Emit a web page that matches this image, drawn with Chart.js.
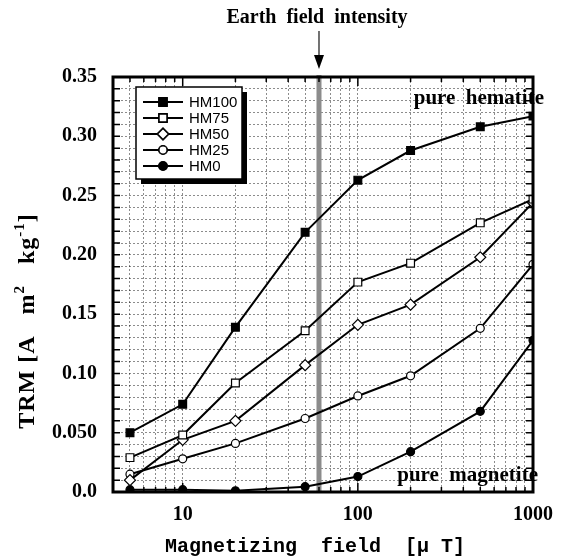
<!DOCTYPE html>
<html>
<head>
<meta charset="utf-8">
<script src="https://cdn.jsdelivr.net/npm/chart.js@4"></script>
<style>
  body { margin: 0; background: #fff; }
  canvas { display: block; }
</style>
</head>
<body>
<canvas id="trmChart" width="567" height="556"></canvas>
<script>
// magnetizing field [uT]
const fields = [5, 10, 20, 50, 100, 200, 500, 1000];

// TRM per sample [A m2 kg-1]
const hm100 = [0.050, 0.074, 0.139, 0.219, 0.263, 0.288, 0.308, 0.317];
const hm75 = [0.029, 0.048, 0.092, 0.136, 0.177, 0.193, 0.227, 0.247];
const hm50 = [0.010, 0.044, 0.060, 0.107, 0.141, 0.158, 0.198, 0.244];
const hm25 = [0.015, 0.028, 0.041, 0.062, 0.081, 0.098, 0.138, 0.192];
const hm0 = [0.002, 0.002, 0.001, 0.0045, 0.013, 0.034, 0.068, 0.128];

const seriesNames = ['HM100', 'HM75', 'HM50', 'HM25', 'HM0'];
const earthField = 60;

const xGridValues = [5, 6, 7, 8, 9, 10, 20, 30, 40, 50, 60, 70, 80, 90,
    100, 200, 300, 400, 500, 600, 700, 800, 900, 1000];
const xTickLabels = { 10: '10', 100: '100', 1000: '1000' };
const yTickLabels = ['0.0', '0.050', '0.10', '0.15', '0.20', '0.25', '0.30', '0.35'];

const serif = '"Liberation Serif", "Times New Roman", serif';

function toPoints(values) {
    return values.map((v, i) => ({ x: fields[i], y: v }));
}

function makeDataset(label, values, style, filled, radius) {
    return {
        label: label,
        data: toPoints(values),
        borderColor: '#000',
        borderWidth: 2,
        pointStyle: style,
        pointRadius: radius,
        pointBackgroundColor: filled ? '#000' : '#fff',
        pointBorderColor: '#000',
        pointBorderWidth: 1.2,
        tension: 0
    };
}

const datasets = [
    makeDataset(seriesNames[0], hm100, 'rect', true, 5.5),
    makeDataset(seriesNames[1], hm75, 'rect', false, 5.5),
    makeDataset(seriesNames[2], hm50, 'rectRot', false, 5.5),
    makeDataset(seriesNames[3], hm25, 'circle', false, 4),
    makeDataset(seriesNames[4], hm0, 'circle', true, 4)
];

// gray band at the earth field + arrow and label above
const earthBand = {
    id: 'earthBand',
    beforeDatasetsDraw(chart) {
        const { ctx, chartArea, scales } = chart;
        const x = scales.x.getPixelForValue(earthField);
        ctx.save();
        ctx.fillStyle = '#8c8c8c';
        ctx.fillRect(x - 2.5, chartArea.top - 2, 5, chartArea.bottom - chartArea.top + 2);
        ctx.restore();
    },
    afterDraw(chart) {
        const { ctx, chartArea, scales } = chart;
        const x = scales.x.getPixelForValue(earthField);
        ctx.save();
        ctx.strokeStyle = '#444';
        ctx.lineWidth = 1.5;
        ctx.beginPath();
        ctx.moveTo(x, 31);
        ctx.lineTo(x, 60);
        ctx.stroke();
        ctx.fillStyle = '#000';
        ctx.beginPath();
        ctx.moveTo(x - 5, 55);
        ctx.lineTo(x + 5, 55);
        ctx.lineTo(x, chartArea.top - 8);
        ctx.closePath();
        ctx.fill();
        ctx.font = 'bold 20px ' + serif;
        ctx.textAlign = 'center';
        ctx.textBaseline = 'middle';
        ctx.fillText('Earth  field  intensity', x - 2, 18);
        ctx.restore();
    }
};

// thick frame with inward ticks on all four sides
const frame = {
    id: 'frame',
    afterDatasetsDraw(chart) {
        const { ctx, chartArea: a, scales } = chart;
        ctx.save();
        ctx.strokeStyle = '#000';
        ctx.lineWidth = 1.5;
        ctx.beginPath();
        scales.y.ticks.forEach(t => {
            const y = scales.y.getPixelForValue(t.value);
            ctx.moveTo(a.left, y); ctx.lineTo(a.left + 7, y);
            ctx.moveTo(a.right, y); ctx.lineTo(a.right - 7, y);
        });
        scales.x.ticks.forEach(t => {
            const x = scales.x.getPixelForValue(t.value);
            const len = xTickLabels[t.value] ? 9 : 5;
            ctx.moveTo(x, a.top); ctx.lineTo(x, a.top + len);
            ctx.moveTo(x, a.bottom); ctx.lineTo(x, a.bottom - len);
        });
        ctx.stroke();
        ctx.lineWidth = 3;
        ctx.strokeRect(a.left, a.top, a.right - a.left, a.bottom - a.top);
        ctx.restore();
    }
};

// text inside the plot and the axis titles
const labels = {
    id: 'labels',
    afterDraw(chart) {
        const { ctx, chartArea: a } = chart;
        ctx.save();
        ctx.fillStyle = '#000';
        ctx.font = 'bold 21px ' + serif;
        ctx.textAlign = 'right';
        ctx.textBaseline = 'alphabetic';
        ctx.fillText('pure  hematite', a.right + 11, 104);
        ctx.fillText('pure  magnetite', a.right + 5, 481);

        ctx.font = 'bold 20px "Liberation Mono", "Courier New", monospace';
        ctx.textAlign = 'center';
        ctx.textBaseline = 'middle';
        ctx.fillText('Magnetizing  field  [\u00b5 T]', 315, 547);

        // y title, rotated, with superscripts
        const parts = [
            { t: 'TRM [A   m', sup: false },
            { t: '2', sup: true },
            { t: '   kg', sup: false },
            { t: '-1', sup: true },
            { t: ']', sup: false }
        ];
        const big = 'bold 24px ' + serif;
        const small = 'bold 15px ' + serif;
        ctx.letterSpacing = '1px';
        let total = 0;
        parts.forEach(p => {
            ctx.font = p.sup ? small : big;
            p.w = ctx.measureText(p.t).width;
            total += p.w;
        });
        ctx.translate(34, 321);
        ctx.rotate(-Math.PI / 2);
        ctx.textAlign = 'left';
        ctx.textBaseline = 'alphabetic';
        let pos = -total / 2;
        parts.forEach(p => {
            ctx.font = p.sup ? small : big;
            ctx.fillText(p.t, pos, p.sup ? -10 : 0);
            pos += p.w;
        });
        ctx.restore();
    }
};

// legend box with drop shadow in the upper left of the plot
const legendBox = {
    id: 'legendBox',
    afterDraw(chart) {
        const { ctx } = chart;
        const left = 136, top = 87, w = 106, h = 92;
        ctx.save();
        ctx.fillStyle = '#000';
        ctx.fillRect(left + 5, top + 5, w, h);
        ctx.fillStyle = '#fff';
        ctx.fillRect(left, top, w, h);
        ctx.strokeStyle = '#000';
        ctx.lineWidth = 1.5;
        ctx.strokeRect(left, top, w, h);
        ctx.font = '15px "Liberation Sans", Arial, sans-serif';
        ctx.textBaseline = 'middle';
        chart.data.datasets.forEach((ds, i) => {
            const y = top + 15 + i * 16;
            ctx.strokeStyle = '#000';
            ctx.lineWidth = 2;
            ctx.beginPath();
            ctx.moveTo(left + 7, y);
            ctx.lineTo(left + 47, y);
            ctx.stroke();
            Chart.helpers.drawPoint(ctx, {
                pointStyle: ds.pointStyle,
                radius: ds.pointRadius,
                borderWidth: ds.pointBorderWidth
            }, left + 27, y);
            ctx.fillStyle = ds.pointBackgroundColor;
            ctx.strokeStyle = ds.pointBorderColor;
            ctx.lineWidth = ds.pointBorderWidth;
            ctx.fill();
            ctx.stroke();
            ctx.fillStyle = '#000';
            ctx.fillText(ds.label, left + 53, y + 1);
        });
        ctx.restore();
    }
};

new Chart(document.getElementById('trmChart'), {
    type: 'line',
    data: { datasets: datasets },
    options: {
        responsive: false,
        animation: false,
        devicePixelRatio: 1,
        layout: { padding: { top: 77, right: 34, bottom: 0, left: 0 } },
        plugins: {
            legend: { display: false },
            tooltip: { enabled: false }
        },
        scales: {
            x: {
                type: 'logarithmic',
                min: 4,
                max: 1000,
                afterFit: scale => { scale.height = 64; },
                afterBuildTicks: scale => {
                    scale.ticks = xGridValues.map(v => ({ value: v }));
                },
                grid: { color: 'rgba(0,0,0,0.45)', lineWidth: 1, drawTicks: false },
                border: { display: false, dash: [2, 2] },
                ticks: {
                    autoSkip: false,
                    maxRotation: 0,
                    padding: 11,
                    color: '#000',
                    font: { family: serif, size: 20, weight: 'bold' },
                    callback: value => xTickLabels[value] || ''
                }
            },
            y: {
                min: 0,
                max: 0.35,
                afterFit: scale => { scale.width = 113; },
                afterBuildTicks: scale => {
                    scale.ticks = Array.from({ length: 36 }, (_, i) => ({ value: i / 100 }));
                },
                grid: { color: 'rgba(0,0,0,0.45)', lineWidth: 1, drawTicks: false },
                border: { display: false, dash: [2, 2] },
                ticks: {
                    autoSkip: false,
                    padding: 16,
                    color: '#000',
                    font: { family: serif, size: 20, weight: 'bold' },
                    callback: value => {
                        const k = Math.round(value * 100);
                        return k % 5 === 0 ? yTickLabels[k / 5] : '';
                    }
                }
            }
        }
    },
    plugins: [earthBand, frame, labels, legendBox]
});
</script>
</body>
</html>
